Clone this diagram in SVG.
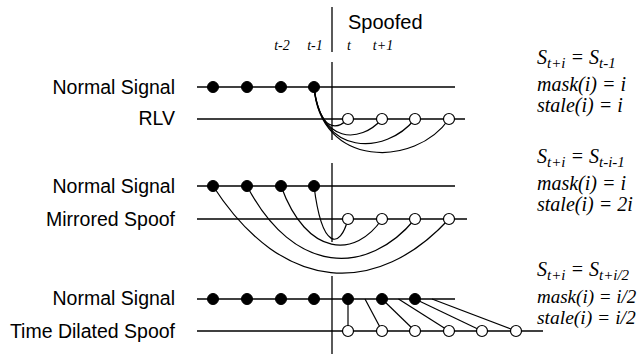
<svg xmlns="http://www.w3.org/2000/svg" width="639" height="354" viewBox="0 0 639 354">
<style>
.lbl{font-family:"Liberation Sans",Arial,sans-serif;font-size:19.5px;fill:#000;text-anchor:end}
.hdr{font-family:"Liberation Sans",Arial,sans-serif;font-size:20px;fill:#000}
.tl{font-family:"Liberation Serif","Times New Roman",serif;font-style:italic;font-size:14px;fill:#000;text-anchor:middle}
.fm{font-family:"Liberation Serif","Times New Roman",serif;font-style:italic;font-size:20px;fill:#000}
.sub{font-size:15px}
.ln{stroke:#000;stroke-width:1.3;fill:none}
.cv{stroke:#000;stroke-width:1.2;fill:none}
.dot{fill:#000;stroke:#000;stroke-width:1}
.opn{fill:#fff;stroke:#000;stroke-width:1.2}
</style>

<g id="divider">
<line class="ln" x1="332" y1="7" x2="332" y2="52"/>
<line class="ln" x1="332" y1="62" x2="332" y2="140"/>
<line class="ln" x1="332" y1="163" x2="332" y2="242"/>
<line class="ln" x1="332" y1="276" x2="332" y2="354"/>
</g>

<g id="header">
<text class="hdr" x="348" y="29">Spoofed</text>
<text class="tl" x="282" y="50">t-2</text>
<text class="tl" x="315" y="50">t-1</text>
<text class="tl" x="349" y="50">t</text>
<text class="tl" x="383" y="50">t+1</text>
</g>

<g id="rows">
<g id="row-normal-1"><text class="lbl" x="175" y="94">Normal Signal</text><line class="ln" x1="197" y1="87" x2="455" y2="87"/></g>
<g id="row-rlv"><text class="lbl" x="175" y="125">RLV</text><line class="ln" x1="197" y1="119" x2="465" y2="119"/></g>
<g id="row-normal-2"><text class="lbl" x="175" y="193">Normal Signal</text><line class="ln" x1="197" y1="186" x2="455" y2="186"/></g>
<g id="row-mirrored"><text class="lbl" x="175" y="226">Mirrored Spoof</text><line class="ln" x1="197" y1="219" x2="467" y2="219"/></g>
<g id="row-normal-3"><text class="lbl" x="175" y="305">Normal Signal</text><line class="ln" x1="197" y1="299" x2="455" y2="299"/></g>
<g id="row-dilated"><text class="lbl" x="175" y="338">Time Dilated Spoof</text><line class="ln" x1="197" y1="331" x2="543" y2="331"/></g>
</g>

<g id="connectors">
<path class="cv" d="M314,87 C320,131 336,131 348,119"/>
<path class="cv" d="M314,87 C320,144 360,144 382,119"/>
<path class="cv" d="M314,87 C320,156 385,156 415,119"/>
<path class="cv" d="M314,87 C320,168 415,168 449,119"/>

<path class="cv" d="M314,186 C322,250 340,250 348,219"/>
<path class="cv" d="M281,186 C307,258 356,258 382,219"/>
<path class="cv" d="M247,186 C294,276 368,276 415,219"/>
<path class="cv" d="M213,186 C284,296 378,296 449,219"/>

<line class="cv" x1="348" y1="299" x2="348" y2="331"/>
<line class="cv" x1="365" y1="299" x2="382" y2="331"/>
<line class="cv" x1="382" y1="299" x2="415" y2="331"/>
<line class="cv" x1="398.5" y1="299" x2="449" y2="331"/>
<line class="cv" x1="415" y1="299" x2="482" y2="331"/>
<line class="cv" x1="432" y1="299" x2="516" y2="331"/>
</g>

<g id="panel1-nodes">
<circle id="p1-n1" class="dot" cx="213" cy="87" r="5.5"/>
<circle id="p1-n2" class="dot" cx="247" cy="87" r="5.5"/>
<circle id="p1-n3" class="dot" cx="281" cy="87" r="5.5"/>
<circle id="p1-n4" class="dot" cx="314" cy="87" r="5.5"/>
<circle id="p1-s1" class="opn" cx="348" cy="119" r="5.5"/>
<circle id="p1-s2" class="opn" cx="382" cy="119" r="5.5"/>
<circle id="p1-s3" class="opn" cx="415" cy="119" r="5.5"/>
<circle id="p1-s4" class="opn" cx="449" cy="119" r="5.5"/>
</g>

<g id="panel2-nodes">
<circle id="p2-n1" class="dot" cx="213" cy="186" r="5.5"/>
<circle id="p2-n2" class="dot" cx="247" cy="186" r="5.5"/>
<circle id="p2-n3" class="dot" cx="281" cy="186" r="5.5"/>
<circle id="p2-n4" class="dot" cx="314" cy="186" r="5.5"/>
<circle id="p2-s1" class="opn" cx="348" cy="219" r="5.5"/>
<circle id="p2-s2" class="opn" cx="382" cy="219" r="5.5"/>
<circle id="p2-s3" class="opn" cx="415" cy="219" r="5.5"/>
<circle id="p2-s4" class="opn" cx="449" cy="219" r="5.5"/>
</g>

<g id="panel3-nodes">
<circle id="p3-n1" class="dot" cx="213" cy="299" r="5.5"/>
<circle id="p3-n2" class="dot" cx="247" cy="299" r="5.5"/>
<circle id="p3-n3" class="dot" cx="281" cy="299" r="5.5"/>
<circle id="p3-n4" class="dot" cx="314" cy="299" r="5.5"/>
<circle id="p3-n5" class="dot" cx="348" cy="299" r="5.5"/>
<circle id="p3-n6" class="dot" cx="382" cy="299" r="5.5"/>
<circle id="p3-n7" class="dot" cx="415" cy="299" r="5.5"/>
<circle id="p3-s1" class="opn" cx="348" cy="331" r="5.5"/>
<circle id="p3-s2" class="opn" cx="382" cy="331" r="5.5"/>
<circle id="p3-s3" class="opn" cx="415" cy="331" r="5.5"/>
<circle id="p3-s4" class="opn" cx="449" cy="331" r="5.5"/>
<circle id="p3-s5" class="opn" cx="482" cy="331" r="5.5"/>
<circle id="p3-s6" class="opn" cx="516" cy="331" r="5.5"/>
</g>

<g id="formulas-1">
<text class="fm" x="537" y="64">S<tspan class="sub" dy="4">t+i</tspan><tspan dy="-4"> = S</tspan><tspan class="sub" dy="4">t-1</tspan></text>
<text class="fm" x="537" y="91">mask(i) = i</text>
<text class="fm" x="537" y="112">stale(i) = i</text>
</g>
<g id="formulas-2">
<text class="fm" x="537" y="163">S<tspan class="sub" dy="4">t+i</tspan><tspan dy="-4"> = S</tspan><tspan class="sub" dy="4">t-i-1</tspan></text>
<text class="fm" x="537" y="190">mask(i) = i</text>
<text class="fm" x="537" y="211">stale(i) = 2i</text>
</g>
<g id="formulas-3">
<text class="fm" x="537" y="276">S<tspan class="sub" dy="4">t+i</tspan><tspan dy="-4"> = S</tspan><tspan class="sub" dy="4">t+i/2</tspan></text>
<text class="fm" x="537" y="303" style="font-size:19px">mask(i) = i/2</text>
<text class="fm" x="537" y="324" style="font-size:19.5px">stale(i) = i/2</text>
</g>
</svg>
